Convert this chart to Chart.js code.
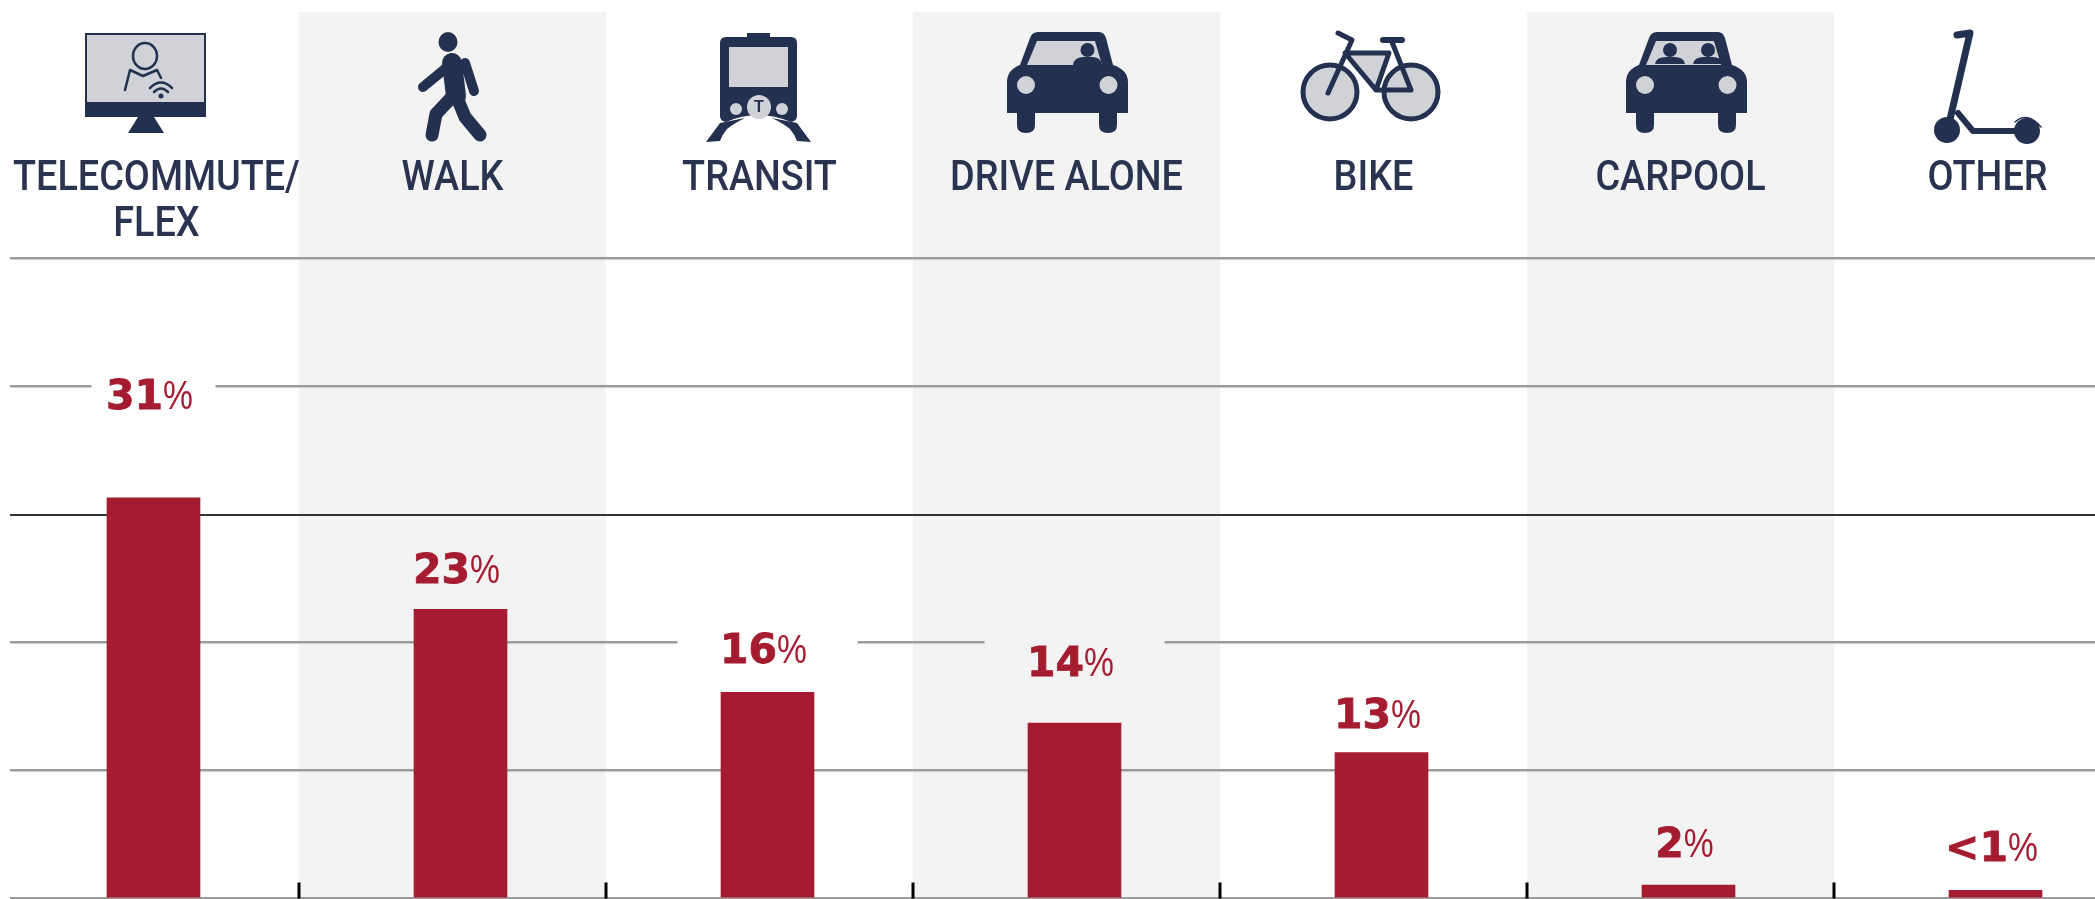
<!DOCTYPE html>
<html>
<head>
<meta charset="utf-8">
<title>Commute modes</title>
<script src="https://cdn.jsdelivr.net/npm/chart.js@4"></script>
<style>
  html, body { margin: 0; padding: 0; background: #fff; overflow: hidden; }
  canvas { display: block; }
</style>
</head>
<body>
<canvas id="chart" width="2149" height="899"></canvas>
<script>
/* -----------------------------------------------------------------
   DATA
   ----------------------------------------------------------------- */
const categories = [["TELECOMMUTE/", "FLEX"], "WALK", "TRANSIT", "DRIVE ALONE", "BIKE", "CARPOOL", "OTHER"];
const barHeights = [31.3, 22.6, 16.1, 13.7, 11.4, 1.05, 0.64];
const valueLabels = ["31%", "23%", "16%", "14%", "13%", "2%", "<1%"];
const gridTicks = [0, 10, 20, 30, 40, 50];

/* -----------------------------------------------------------------
   STYLE
   ----------------------------------------------------------------- */
const RED = "#a51c30";
const NAVY = "#24304f";
const PALE = "#d0d2d8";
const BAND = "#f3f3f3";
const BAND_SHIFT = 8;              // bands and headers sit a little left of the bars
const HEADER_STRETCH = 0.9;        // no condensed font installed, so squeeze the header text
const LABEL_LIFT = [104, 41, 44, 62, 40, 43, 44];   // label centre above bar top
const LABEL_GAP = [62, 50, 90, 90, 50, 50, 50];     // half width of the gap cut in grid lines

/* -----------------------------------------------------------------
   ICONS
   ----------------------------------------------------------------- */
function fillPath(ctx, d, color) {
  ctx.fillStyle = color;
  ctx.fill(new Path2D(d));
}
function strokePath(ctx, d, color, width) {
  ctx.strokeStyle = color;
  ctx.lineWidth = width;
  ctx.lineCap = "round";
  ctx.lineJoin = "round";
  ctx.stroke(new Path2D(d));
}
function disc(cx, cy, rx, ry = rx) {
  return `M${cx - rx} ${cy}A${rx} ${ry} 0 1 0 ${cx + rx} ${cy}A${rx} ${ry} 0 1 0 ${cx - rx} ${cy}Z`;
}

function drawScreen(ctx) {
  fillPath(ctx, "M85 33H206V117H85Z", NAVY);
  fillPath(ctx, "M87 35H204V102H87Z", PALE);
  fillPath(ctx, "M138 117H154L164 133H128Z", NAVY);
  strokePath(ctx, disc(145, 56, 12, 13), NAVY, 2.5);
  strokePath(ctx, "M125 90L130 70L143 76L157 70L161 78", NAVY, 2.5);
  strokePath(ctx, "M150 88Q161 77 172 88M154 92Q161 85 168 92", NAVY, 2.5);
  fillPath(ctx, disc(161, 96, 2.5), NAVY);
}

function drawWalker(ctx) {
  fillPath(ctx, disc(448, 42, 9.5, 10), NAVY);
  strokePath(ctx, "M452 63L456 96", NAVY, 20);
  strokePath(ctx, "M446 68L423 87", NAVY, 10);
  strokePath(ctx, "M465 63L474 91", NAVY, 10);
  strokePath(ctx, "M451 98L436 114L432 135", NAVY, 13);
  strokePath(ctx, "M458 100L465 117L480 135", NAVY, 13);
}

function drawTrain(ctx) {
  fillPath(ctx, "M747 37V33H770V37Z", NAVY);
  fillPath(ctx, "M726 37H791Q797 37 797 43V116Q797 121 791 122Q758 108 726 122Q720 121 720 116V43Q720 37 726 37Z", NAVY);
  fillPath(ctx, "M729 47H788V87H729Z", PALE);
  fillPath(ctx, disc(736, 109, 6), PALE);
  fillPath(ctx, disc(782, 109, 6), PALE);
  fillPath(ctx, disc(759, 107, 12), PALE);
  fillPath(ctx, "M706 142L720 123L745 118Q733 124 727 129Q722 135 720 141Z", NAVY);
  fillPath(ctx, "M811 142L797 123L772 118Q784 124 790 129Q795 135 797 141Z", NAVY);
  ctx.fillStyle = NAVY;
  ctx.font = "bold 16px 'Liberation Sans'";
  ctx.textAlign = "center";
  ctx.textBaseline = "middle";
  ctx.fillText("T", 759, 108);
}

function drawCarAt(ctx, dx) {
  ctx.save();
  ctx.translate(dx, 0);
  fillPath(ctx, "M1038 32H1099Q1104 32 1106 38L1113 65Q1128 70 1128 82V113H1117V125Q1117 133 1108 133Q1099 133 1099 125V113H1035V125Q1035 133 1026 133Q1017 133 1017 125V113H1007V82Q1007 70 1020 65L1030 38Q1032 32 1038 32Z", NAVY);
  fillPath(ctx, disc(1026, 85, 9), PALE);
  fillPath(ctx, disc(1108.5, 85, 9), PALE);
  ctx.restore();
}

function drawDriveAlone(ctx) {
  drawCarAt(ctx, 0);
  fillPath(ctx, "M1037 41H1095L1102 65H1027Z", PALE);
  fillPath(ctx, disc(1087.5, 50, 7), NAVY);
  fillPath(ctx, "M1073 65Q1074 57 1084 57H1092Q1101 57 1102 65Z", NAVY);
}

function drawCarpool(ctx) {
  drawCarAt(ctx, 619);
  fillPath(ctx, "M1656 41H1714L1721 65H1646Z", PALE);
  [1670, 1708].forEach((x) => {
    fillPath(ctx, disc(x, 50, 7), NAVY);
    fillPath(ctx, `M${x - 15} 64Q${x - 14} 57 ${x - 4} 57H${x + 4}Q${x + 14} 57 ${x + 15} 64Z`, NAVY);
  });
}

function drawBike(ctx) {
  fillPath(ctx, "M1347 55H1386L1376 88Z", PALE);
  fillPath(ctx, disc(1330, 92, 27), PALE);
  fillPath(ctx, disc(1411, 92, 27), PALE);
  strokePath(ctx, disc(1330, 92, 27), NAVY, 5);
  strokePath(ctx, disc(1411, 92, 27), NAVY, 5);
  strokePath(ctx, "M1338 33L1352 40L1328 93", NAVY, 5);
  strokePath(ctx, "M1345 53H1389L1376 90ZM1376 90H1411L1392 42", NAVY, 5);
  strokePath(ctx, "M1383 40H1402", NAVY, 6);
}

function drawScooter(ctx) {
  strokePath(ctx, "M1957 35L1970 33L1948 128", NAVY, 7);
  strokePath(ctx, "M1958 113L1973 131H2018", NAVY, 6);
  fillPath(ctx, disc(1947, 130, 13), NAVY);
  fillPath(ctx, disc(2027, 131, 13), NAVY);
  strokePath(ctx, "M2015 122Q2027 111 2041 127", NAVY, 1.5);
}

const iconPainters = [drawScreen, drawWalker, drawTrain, drawDriveAlone, drawBike, drawCarpool, drawScooter];

/* -----------------------------------------------------------------
   PLUGINS
   ----------------------------------------------------------------- */
function bandEdge(chart, i) {
  const x = chart.scales.x;
  return x.getPixelForValue(i) - (x.getPixelForValue(1) - x.getPixelForValue(0)) / 2 - BAND_SHIFT;
}

const bandsPlugin = {
  id: "bands",
  beforeDraw(chart) {
    const { ctx, chartArea } = chart;
    ctx.save();
    ctx.fillStyle = BAND;
    [1, 3, 5].forEach((i) => {
      const left = bandEdge(chart, i);
      ctx.fillRect(left, 12, bandEdge(chart, i + 1) - left, chartArea.bottom - 12);
    });
    ctx.restore();
  },
  beforeDatasetsDraw(chart) {
    // grid lines start a little inside the left edge
    const { ctx, chartArea } = chart;
    ctx.save();
    ctx.fillStyle = "#fff";
    ctx.fillRect(0, chartArea.top - 5, 10, chartArea.height + 10);
    ctx.restore();
  },
};

const labelsPlugin = {
  id: "valueLabels",
  afterDatasetsDraw(chart) {
    const { ctx } = chart;
    const bars = chart.getDatasetMeta(0).data;
    ctx.save();
    bars.forEach((bar, i) => {
      const cy = bar.y - LABEL_LIFT[i];
      const head = valueLabels[i].slice(0, -1);

      ctx.fillStyle = i % 2 ? BAND : "#fff";
      ctx.fillRect(bar.x - LABEL_GAP[i], cy - 22, LABEL_GAP[i] * 2, 44);

      ctx.font = "bold 41px 'DejaVu Sans'";
      const headWidth = ctx.measureText(head).width;
      const tailWidth = 30;
      const start = bar.x - (headWidth + tailWidth) / 2 - 4;

      ctx.fillStyle = RED;
      ctx.strokeStyle = RED;
      ctx.lineWidth = 0.8;
      ctx.textAlign = "left";
      ctx.textBaseline = "alphabetic";
      ctx.fillText(head, start, cy + 15);
      ctx.strokeText(head, start, cy + 15);

      // the percent sign is lighter and narrower than the digits
      ctx.save();
      ctx.translate(start + headWidth, cy + 15);
      ctx.scale(0.82, 1);
      ctx.font = "41px 'Liberation Sans'";
      ctx.fillText("%", 0, 0);
      ctx.restore();
    });
    ctx.restore();

    // ticks on the baseline between the bands
    ctx.save();
    ctx.fillStyle = "#000";
    [1, 2, 3, 4, 5, 6].forEach((i) => {
      ctx.fillRect(Math.round(bandEdge(chart, i)) - 1.5, chart.chartArea.bottom - 16, 3, 16);
    });
    ctx.restore();
  },
  afterDraw(chart) {
    const { ctx, scales } = chart;
    iconPainters.forEach((paint) => {
      ctx.save();
      paint(ctx);
      ctx.restore();
    });

    // category headers, squeezed sideways
    ctx.save();
    ctx.fillStyle = "#2a3450";
    ctx.textAlign = "center";
    ctx.textBaseline = "middle";
    ctx.font = "500 42px Roboto";
    categories.forEach((cat, i) => {
      const lines = Array.isArray(cat) ? cat : [cat];
      const widest = Math.max(...lines.map((l) => ctx.measureText(l).width)) * HEADER_STRETCH;
      const center = Math.max(scales.x.getPixelForValue(i) - BAND_SHIFT, widest / 2 + 13);
      lines.forEach((line, n) => {
        ctx.save();
        ctx.translate(center, 179 + n * 46);
        ctx.scale(HEADER_STRETCH, 1);
        ctx.fillText(line, 0, 0);
        ctx.restore();
      });
    });
    ctx.restore();
  },
};

/* -----------------------------------------------------------------
   CHART
   ----------------------------------------------------------------- */
new Chart(document.getElementById("chart"), {
  type: "bar",
  data: {
    labels: categories,
    datasets: [{
      data: barHeights,
      backgroundColor: RED,
      barThickness: 93,
    }],
  },
  options: {
    responsive: false,
    animation: false,
    layout: { padding: { bottom: 0.5 } },
    plugins: { legend: { display: false }, tooltip: { enabled: false } },
    scales: {
      x: {
        position: "top",
        afterFit(axis) { axis.height = 258.5; },
        border: { display: false },
        grid: { display: false },
        ticks: { display: false },
      },
      y: {
        min: 0,
        max: 50,
        afterBuildTicks(axis) { axis.ticks = gridTicks.map((value) => ({ value })); },
        border: { display: false },
        grid: {
          drawTicks: false,
          lineWidth: (c) => (c.tick.value === 30 ? 2 : 2.5),
          color: (c) => (c.tick.value === 30 ? "#333" : "#9c9c9c"),
        },
        ticks: { display: false },
      },
    },
  },
  plugins: [bandsPlugin, labelsPlugin],
});
</script>
</body>
</html>
